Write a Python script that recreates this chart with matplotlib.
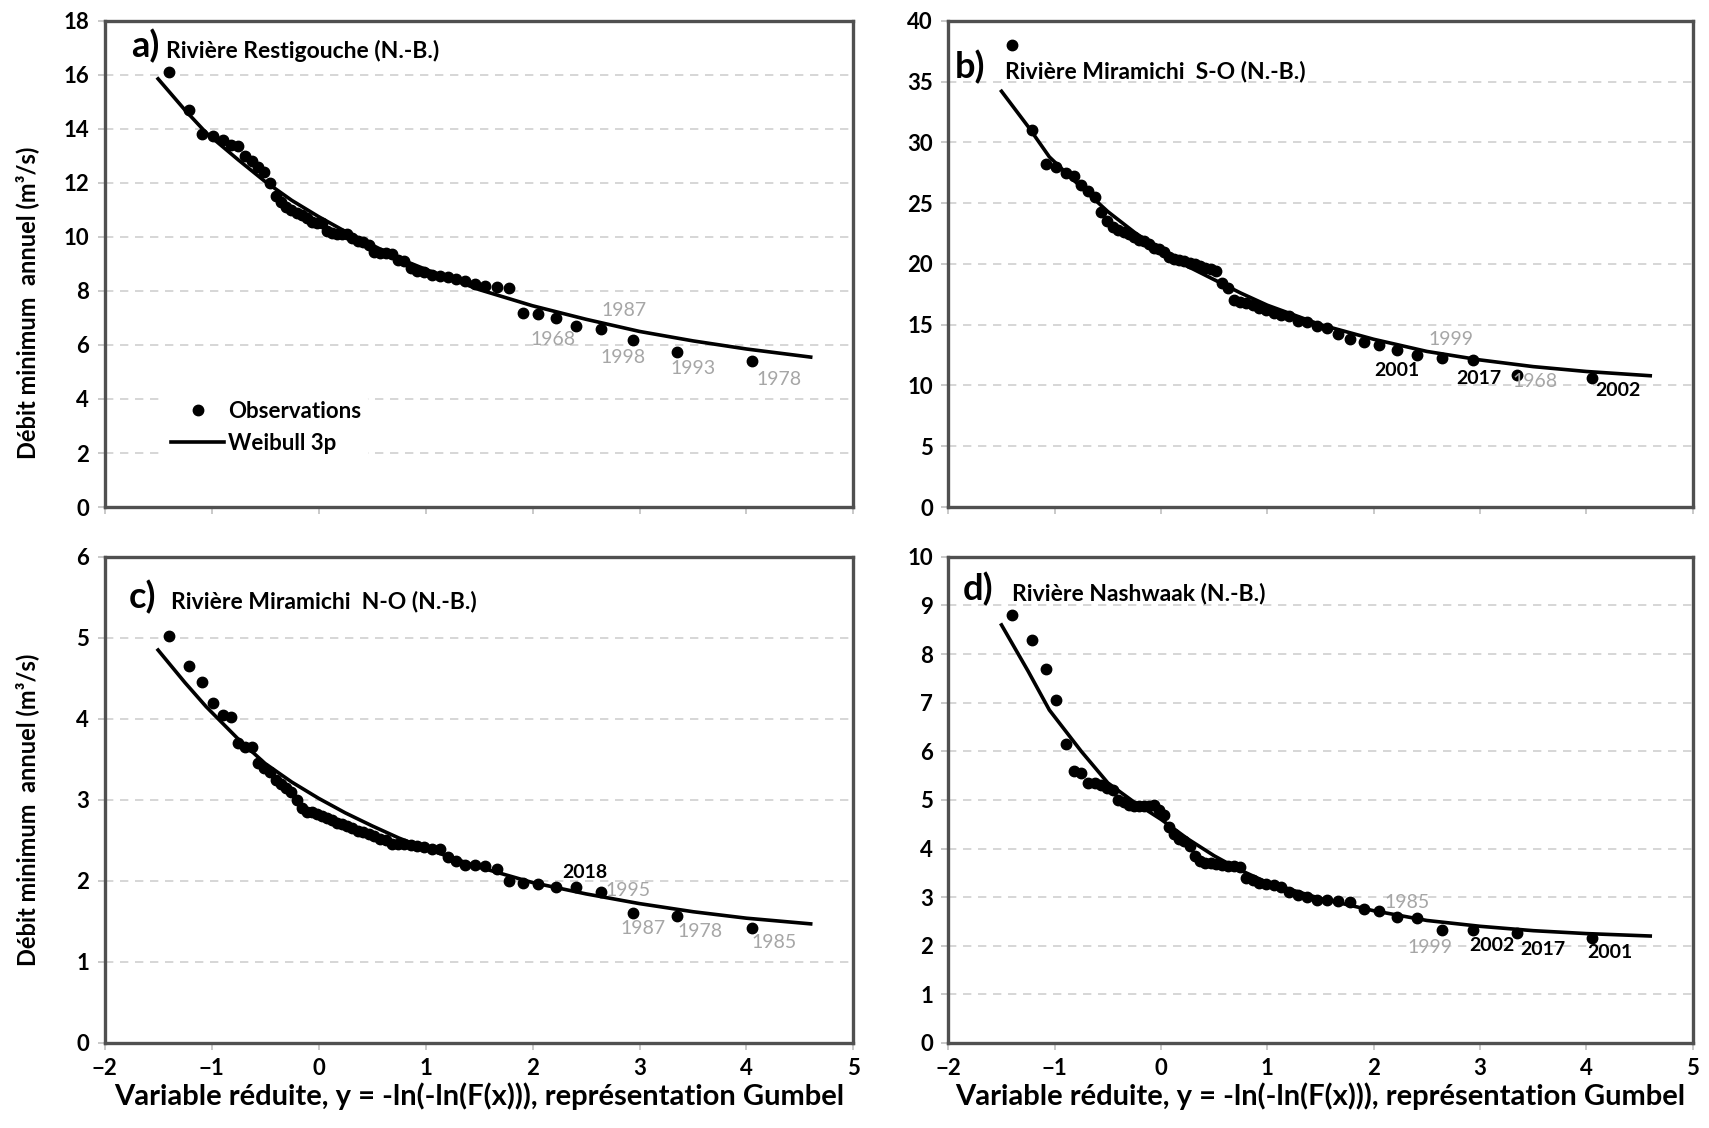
import matplotlib.pyplot as plt

plt.rcParams['font.family'] = ['Lato', 'DejaVu Sans']
plt.rcParams['font.weight'] = 'bold'

# Gumbel reduced variate of the 57 ranked observations
x_obs = [-1.401, -1.214, -1.086, -0.984, -0.897, -0.819, -0.749, -0.684, -0.622, -0.564,
         -0.508, -0.455, -0.402, -0.352, -0.302, -0.253, -0.205, -0.157, -0.110, -0.063,
         -0.016, 0.031, 0.078, 0.125, 0.172, 0.220, 0.268, 0.317, 0.367, 0.417,
         0.468, 0.520, 0.573, 0.627, 0.683, 0.740, 0.800, 0.861, 0.924, 0.990,
         1.059, 1.131, 1.207, 1.286, 1.371, 1.462, 1.559, 1.665, 1.780, 1.908,
         2.051, 2.215, 2.406, 2.639, 2.935, 3.350, 4.052]

a_obs = [16.1, 14.7, 13.8, 13.75, 13.6, 13.4, 13.35, 13.0, 12.8, 12.6,
         12.4, 12.0, 11.5, 11.3, 11.1, 11.0, 10.9, 10.8, 10.7, 10.55,
         10.5, 10.5, 10.2, 10.15, 10.1, 10.1, 10.1, 9.95, 9.85, 9.8,
         9.7, 9.45, 9.4, 9.4, 9.35, 9.15, 9.1, 8.85, 8.75, 8.7,
         8.6, 8.55, 8.5, 8.45, 8.35, 8.25, 8.2, 8.15, 8.1, 7.2,
         7.15, 7.0, 6.7, 6.6, 6.2, 5.75, 5.4]

b_obs = [38.0, 31.0, 28.2, 28.0, 27.5, 27.2, 26.5, 26.0, 25.5, 24.3,
         23.5, 23.0, 22.8, 22.6, 22.5, 22.2, 22.0, 21.9, 21.6, 21.3,
         21.2, 21.0, 20.6, 20.4, 20.3, 20.2, 20.1, 20.0, 19.8, 19.7,
         19.6, 19.4, 18.4, 18.0, 17.0, 16.9, 16.8, 16.6, 16.4, 16.2,
         16.0, 15.8, 15.7, 15.3, 15.2, 14.9, 14.7, 14.2, 13.8, 13.6,
         13.3, 12.9, 12.5, 12.3, 12.1, 10.9, 10.6]

c_obs = [5.02, 4.65, 4.45, 4.2, 4.05, 4.02, 3.7, 3.65, 3.65, 3.45,
         3.4, 3.35, 3.25, 3.2, 3.15, 3.1, 3.0, 2.9, 2.85, 2.85,
         2.83, 2.8, 2.78, 2.75, 2.72, 2.7, 2.68, 2.65, 2.62, 2.6,
         2.58, 2.56, 2.52, 2.5, 2.45, 2.45, 2.45, 2.44, 2.43, 2.42,
         2.4, 2.4, 2.3, 2.25, 2.2, 2.2, 2.18, 2.15, 2.0, 1.98,
         1.96, 1.92, 1.93, 1.86, 1.6, 1.57, 1.42]

d_obs = [8.8, 8.3, 7.7, 7.05, 6.15, 5.6, 5.55, 5.35, 5.35, 5.3,
         5.25, 5.2, 5.0, 4.95, 4.9, 4.88, 4.88, 4.88, 4.88, 4.9,
         4.8, 4.7, 4.45, 4.3, 4.2, 4.15, 4.05, 3.85, 3.75, 3.7,
         3.7, 3.68, 3.66, 3.65, 3.65, 3.62, 3.4, 3.35, 3.3, 3.27,
         3.25, 3.2, 3.1, 3.05, 3.0, 2.95, 2.95, 2.93, 2.9, 2.75,
         2.72, 2.6, 2.58, 2.33, 2.33, 2.26, 2.15]

# Weibull 3p fitted curves
fit_x = [-1.5, -1.25, -1.05, -0.75, -0.5, -0.25, 0.0, 0.25, 0.5, 0.75, 1.0,
         1.5, 2.0, 2.5, 3.0, 3.5, 4.0, 4.6]
a_fit = [15.85, 14.7, 13.85, 12.85, 12.05, 11.35, 10.75, 10.2, 9.7, 9.2, 8.8,
         8.05, 7.45, 6.95, 6.5, 6.15, 5.85, 5.55]
b_fit = [34.2, 31.3, 28.8, 26.3, 24.3, 22.6, 21.1, 19.8, 18.7, 17.6, 16.6,
         15.0, 13.8, 12.8, 12.1, 11.55, 11.15, 10.8]
c_fit = [4.85, 4.45, 4.15, 3.75, 3.45, 3.22, 3.02, 2.84, 2.68, 2.53, 2.4,
         2.17, 1.98, 1.84, 1.72, 1.62, 1.54, 1.47]
d_fit = [8.6, 7.65, 6.85, 6.0, 5.35, 4.95, 4.6, 4.2, 3.85, 3.55, 3.3,
         2.97, 2.72, 2.52, 2.4, 2.31, 2.25, 2.2]

# year labels: (text, x, y, highlighted)
a_years = [('1987', 2.86, 7.26, False), ('1968', 2.19, 6.2, False), ('1998', 2.85, 5.53, False),
           ('1993', 3.50, 5.12, False), ('1978', 4.30, 4.72, False)]
b_years = [('1999', 2.73, 13.8, False), ('2001', 2.22, 11.2, True), ('2017', 2.99, 10.6, True),
           ('1968', 3.52, 10.3, False), ('2002', 4.30, 9.6, True)]
c_years = [('2018', 2.49, 2.10, True), ('1995', 2.89, 1.88, False), ('1987', 3.03, 1.41, False),
           ('1978', 3.57, 1.37, False), ('1985', 4.26, 1.24, False)]
d_years = [('1985', 2.31, 2.88, False), ('1999', 2.53, 1.97, False), ('2002', 3.11, 2.0, True),
           ('2017', 3.59, 1.93, True), ('2001', 4.22, 1.86, True)]

ylabel = 'Débit minimum  annuel (m³/s)'
xlabel = 'Variable réduite, y = -ln(-ln(F(x))), représentation Gumbel'


def plot(ax, obs, fit, years, ymax, ystep, tag, name, tagpos, namex, show_x, ylab_y):
    ax.plot(fit_x, fit, color='black', linewidth=2.6, label='Weibull 3p', zorder=3)
    ax.plot(x_obs, obs, 'o', color='black', markersize=7.5, label='Observations', zorder=4)
    for txt, x, y, hl in years:
        if hl:
            ax.text(x, y, txt, color='black', fontsize=14, fontweight='bold', ha='center', va='center', zorder=5)
        else:
            ax.text(x, y, txt, color='#a6a6a6', fontsize=14, fontweight='normal', ha='center', va='center', zorder=5)
    ax.text(tagpos[0], tagpos[1], tag, transform=ax.transAxes, fontsize=26, fontweight='bold', va='baseline')
    ax.text(namex, tagpos[1], name, transform=ax.transAxes, fontsize=16.5, fontweight='bold', va='baseline')
    ax.set_xlim(-2, 5)
    ax.set_ylim(0, ymax)
    ax.set_xticks(range(-2, 6))
    ax.set_yticks([ystep * i for i in range(int(round(ymax / ystep)) + 1)])
    ax.yaxis.grid(True, linestyle=(0, (5, 4)), color='#d0d0d0', linewidth=1.2)
    ax.set_axisbelow(True)
    for s in ax.spines.values():
        s.set_color('#505050')
        s.set_linewidth(2.4)
    ax.tick_params(direction='out', length=5, color='#c0c0c0', labelsize=16, width=1.2, pad=6)
    for lab in ax.get_xticklabels() + ax.get_yticklabels():
        lab.set_fontweight('bold')
    if show_x:
        ax.set_xlabel(xlabel, fontsize=21, fontweight='bold', labelpad=2)
    else:
        ax.tick_params(axis='x', labelbottom=False)
    if ylab_y is not None:
        ax.set_ylabel(ylabel, fontsize=17, fontweight='bold')
        ax.yaxis.set_label_coords(-0.087, ylab_y)


fig = plt.figure(figsize=(17.09, 11.28), dpi=100)
ax_a = fig.add_axes([0.0612, 0.5505, 0.4382, 0.4311])
ax_b = fig.add_axes([0.5549, 0.5505, 0.4356, 0.4311])
ax_c = fig.add_axes([0.0612, 0.0754, 0.4382, 0.4309])
ax_d = fig.add_axes([0.5549, 0.0754, 0.4356, 0.4309])

plot(ax_a, a_obs, a_fit, a_years, 18, 2, 'a)', 'Rivière Restigouche (N.-B.)', (0.035, 0.924), 0.0815, False, 0.42)
plot(ax_b, b_obs, b_fit, b_years, 40, 5, 'b)', 'Rivière Miramichi  S-O (N.-B.)', (0.008, 0.881), 0.076, False, None)
plot(ax_c, c_obs, c_fit, c_years, 6, 1, 'c)', 'Rivière Miramichi  N-O (N.-B.)', (0.032, 0.895), 0.0888, True, 0.48)
plot(ax_d, d_obs, d_fit, d_years, 10, 1, 'd)', 'Rivière Nashwaak (N.-B.)', (0.020, 0.910), 0.085, True, None)

h, l = ax_a.get_legend_handles_labels()
leg = ax_a.legend([h[1], h[0]], [l[1], l[0]], loc='upper left', bbox_to_anchor=(0.065, 0.255),
                  frameon=True, framealpha=1, edgecolor='white', fontsize=16, handlelength=2.4,
                  handletextpad=0.15, labelspacing=0.5, borderpad=0.3)
leg.get_frame().set_linewidth(0)

fig.savefig('out.png', dpi=100)
